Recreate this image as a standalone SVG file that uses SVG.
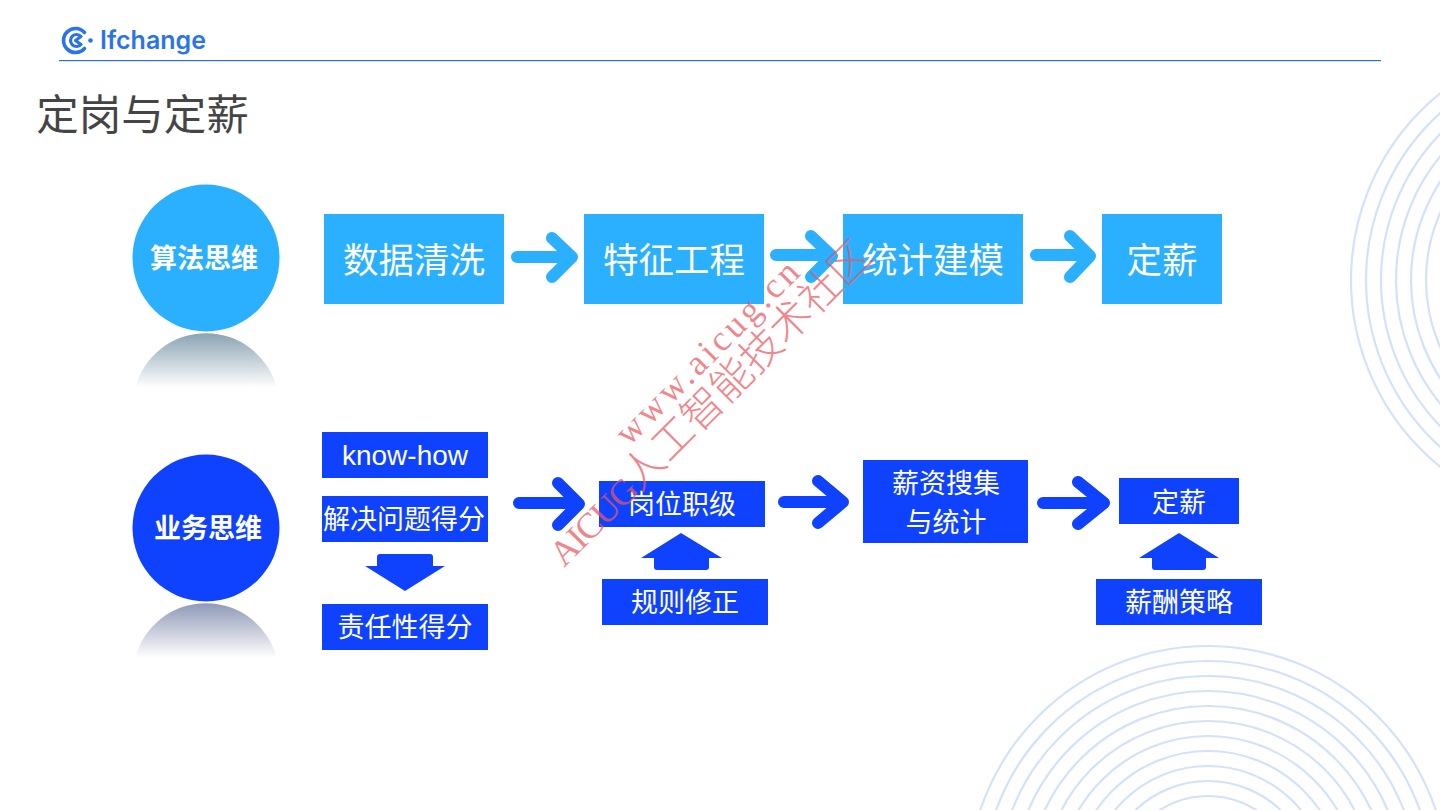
<svg xmlns="http://www.w3.org/2000/svg" width="1440" height="810" viewBox="0 0 1440 810">
<style>
text{font-family:"Noto Sans CJK SC","Liberation Sans",sans-serif;text-anchor:middle;fill:#fff}
.ring{fill:none;stroke:#d3e2f8;stroke-width:2.2}
.lb{fill:#2AB0FF}.db{fill:#0F42FF}
.t36{font-size:35.500px;font-weight:400}
.t27{font-size:27px;font-weight:400}
.cn{font-size:27px;font-weight:700}
.ar{fill:none;stroke-width:12;stroke-linecap:round;stroke-linejoin:round}
.al{stroke:#2AB0FF}.ad{stroke:#0F42FF}
.wm{fill:#ee5560;fill-opacity:.72;text-anchor:start}
</style>
<defs>
<linearGradient id="ref1" x1="0" y1="0" x2="0" y2="1"><stop offset="0" stop-color="#8ba3b3"/><stop offset="1" stop-color="#ffffff"/></linearGradient>
<linearGradient id="ref2" x1="0" y1="0" x2="0" y2="1"><stop offset="0" stop-color="#8f99b8"/><stop offset="1" stop-color="#ffffff"/></linearGradient>
</defs>
<rect width="1440" height="810" fill="#fff"/>
<g id="rings-right">
<circle class="ring" cx="1591" cy="280" r="240"/><circle class="ring" cx="1591" cy="280" r="225"/><circle class="ring" cx="1591" cy="280" r="210"/><circle class="ring" cx="1591" cy="280" r="195"/><circle class="ring" cx="1591" cy="280" r="180"/><circle class="ring" cx="1591" cy="280" r="165"/>
</g>
<g id="rings-bottom">
<circle class="ring" cx="1208" cy="886" r="240"/><circle class="ring" cx="1208" cy="886" r="225"/><circle class="ring" cx="1208" cy="886" r="210"/><circle class="ring" cx="1208" cy="886" r="195"/><circle class="ring" cx="1208" cy="886" r="180"/><circle class="ring" cx="1208" cy="886" r="165"/><circle class="ring" cx="1208" cy="886" r="150"/><circle class="ring" cx="1208" cy="886" r="135"/><circle class="ring" cx="1208" cy="886" r="120"/><circle class="ring" cx="1208" cy="886" r="105"/><circle class="ring" cx="1208" cy="886" r="90"/>
</g>
<g id="header">
<path d="M84.500 32.500A12 12 0 1 0 84.500 48.500" fill="none" stroke="#2b74e8" stroke-width="3.600" stroke-linecap="round"/>
<path d="M81 36.500A6 6 0 1 0 81 44.500L75.500 40.500Z" fill="none" stroke="#2b74e8" stroke-width="3.200" stroke-linejoin="round"/>
<circle cx="90.500" cy="40.500" r="2.300" fill="#2b74e8"/>
<text x="153" y="49" style="font-family:Inter,'Liberation Sans',sans-serif;font-size:25px;font-weight:600;fill:#2b74e8">Ifchange</text>
<rect x="59" y="60" width="1322" height="1.200" fill="#2b6fdc"/>
</g>
<text id="title" x="142.500" y="130" style="font-size:42.500px;font-weight:400;fill:#454545">定岗与定薪</text>
<g id="connectors">
<path class="ar al" d="M517 257H571M552 238L572 257L552 277"/>
<path class="ar al" d="M776 255H831M811 236L832 256L811 277"/>
<path class="ar al" d="M1036 255H1089M1070 236L1090 256L1070 277"/>
<path class="ar ad" d="M519 503H578M558 483L579 504L558 525"/>
<path class="ar ad" d="M784 502H842M818 481L843 502L818 523"/>
<path class="ar ad" d="M1043 503H1102M1078 482L1104 503L1078 524"/>
<path class="db" d="M377 557a3 3 0 0 1 3-3h50a3 3 0 0 1 3 3v9h12l-40 25-40-25h12z"/>
<path class="db" d="M654 558h-13l40-25 41 25h-13v9a3 3 0 0 1-3 3h-49a3 3 0 0 1-3-3z"/>
<path class="db" d="M1152 558h-13l40-25 40 25h-13v9a3 3 0 0 1-3 3h-48a3 3 0 0 1-3-3z"/>
</g>
<g id="node-algo"><circle class="lb" cx="206" cy="258" r="73.500"/><path d="M135.300 388A73 73 0 0 1 276.700 388Z" fill="url(#ref1)"/><text class="cn" x="204" y="268">算法思维</text></g>
<g id="node-biz"><circle class="db" cx="206" cy="528" r="73.500"/><path d="M135.300 658A73 73 0 0 1 276.700 658Z" fill="url(#ref2)"/><text class="cn" x="208" y="538">业务思维</text></g>
<g id="n1"><rect class="lb" x="324" y="214" width="180" height="90"/><text class="t36" x="414" y="273">数据清洗</text></g>
<g id="n2"><rect class="lb" x="584" y="214" width="180" height="90"/><text class="t36" x="674" y="273">特征工程</text></g>
<g id="n3"><rect class="lb" x="843" y="214" width="180" height="90"/><text class="t36" x="933" y="273">统计建模</text></g>
<g id="n4"><rect class="lb" x="1102" y="214" width="120" height="90"/><text class="t36" x="1162" y="273">定薪</text></g>
<g id="b1"><rect class="db" x="322" y="432" width="166" height="46"/><text x="405" y="465" style="font-family:'Liberation Sans',sans-serif;font-size:28px">know-how</text></g>
<g id="b2"><rect class="db" x="322" y="496" width="166" height="46"/><text class="t27" x="404" y="529">解决问题得分</text></g>
<g id="b3"><rect class="db" x="322" y="604" width="166" height="46"/><text class="t27" x="405" y="637">责任性得分</text></g>
<g id="b4"><rect class="db" x="599" y="481" width="166" height="46"/><text class="t27" x="682" y="514">岗位职级</text></g>
<g id="b5"><rect class="db" x="602" y="579" width="166" height="46"/><text class="t27" x="685" y="612">规则修正</text></g>
<g id="b6"><rect class="db" x="863" y="460" width="165" height="83"/><text class="t27" x="946" y="493">薪资搜集</text><text class="t27" x="946" y="532">与统计</text></g>
<g id="b7"><rect class="db" x="1119" y="478" width="120" height="46"/><text class="t27" x="1179" y="512">定薪</text></g>
<g id="b8"><rect class="db" x="1096" y="579" width="166" height="46"/><text class="t27" x="1179" y="612">薪酬策略</text></g>
<g id="watermark">
<text class="wm" transform="translate(564 568) rotate(-45)" style="font-family:'Liberation Serif','Noto Sans CJK SC',serif;font-size:36px;letter-spacing:-1.500px">AICUG<tspan style="font-size:41.500px;font-weight:200;letter-spacing:0">人工智能技术社区</tspan></text>
<text class="wm" transform="translate(629 447) rotate(-45)" style="font-family:'Liberation Serif',serif;font-size:36px;letter-spacing:3.500px">www.aicug.cn</text>
</g>
</svg>
